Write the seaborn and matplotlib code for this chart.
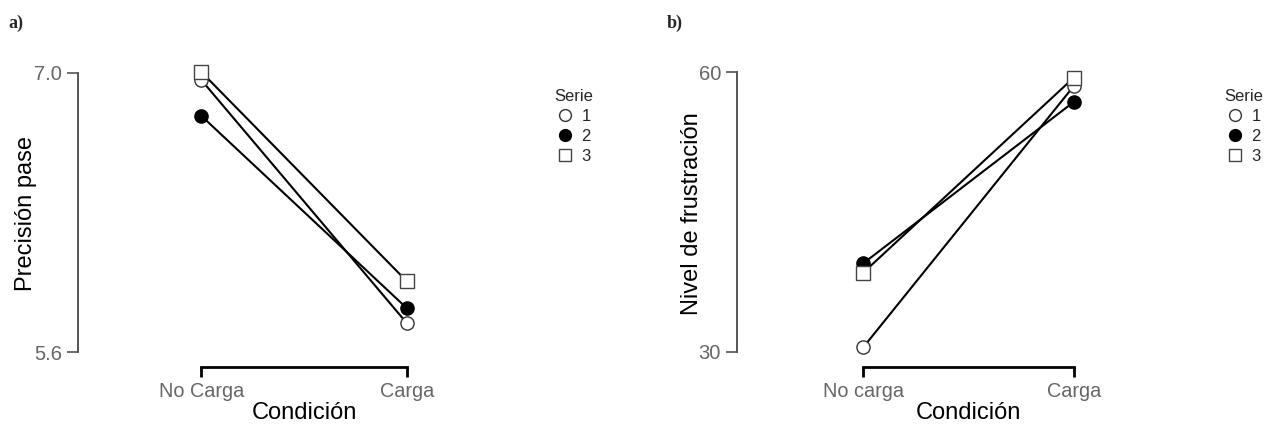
import pandas as pd
import seaborn as sns
import matplotlib.pyplot as plt
from matplotlib.lines import Line2D

# Data
series = [1, 2, 3]
cond_a = ['No Carga', 'Carga']
cond_b = ['No carga', 'Carga']
precision_s1 = [6.965, 5.745]
precision_s2 = [6.785, 5.82]
precision_s3 = [7.005, 5.955]
frustracion_s1 = [30.5, 58.5]
frustracion_s2 = [39.5, 56.8]
frustracion_s3 = [38.5, 59.4]

sns.set_style("white")
plt.rcParams['font.family'] = ['Liberation Sans', 'DejaVu Sans']

marker_style = {
    1: dict(marker='o', markerfacecolor='white', markeredgecolor='#333333'),
    2: dict(marker='o', markerfacecolor='black', markeredgecolor='black'),
    3: dict(marker='s', markerfacecolor='white', markeredgecolor='#444444'),
}


def panel(ax, conds, values, yticks, ylim, ylabel, letter, pad):
    for s, vals in zip(series, values):
        df = pd.DataFrame({'Condición': conds, 'valor': vals})
        sns.lineplot(x='Condición', y='valor', data=df, ax=ax, color='black',
                     linewidth=1.5, markersize=9.5, markeredgewidth=1.0,
                     sort=False, **marker_style[s])
    ax.set_xlim(-0.6, 1.6)
    ax.set_ylim(*ylim)
    ax.set_yticks(yticks)
    ax.set_yticklabels([str(t) for t in yticks])
    ax.set_xlabel('Condición', fontsize=17, color='black', labelpad=1)
    ax.set_ylabel(ylabel, fontsize=17, color='black', labelpad=pad)
    for side in ['top', 'right']:
        ax.spines[side].set_visible(False)
    ax.spines['left'].set_bounds(yticks[0], yticks[-1])
    ax.spines['left'].set_color('#555555')
    ax.spines['left'].set_linewidth(1.4)
    ax.spines['bottom'].set_bounds(0, 1)
    ax.spines['bottom'].set_color('black')
    ax.spines['bottom'].set_linewidth(2.0)
    ax.tick_params(axis='y', length=8, width=1.2, color='#555555',
                   labelsize=14.5, labelcolor='#666666', left=True)
    ax.tick_params(axis='x', length=7, width=2.0, color='black',
                   labelsize=14.3, labelcolor='#666666', bottom=True)
    handles = [Line2D([], [], linestyle='none', markersize=8.5,
                      markeredgewidth=1.0, **marker_style[s]) for s in series]
    ax.legend(handles, [str(s) for s in series], title='Serie',
              loc='upper left', bbox_to_anchor=(1.02, 0.955),
              frameon=False, fontsize=12, title_fontsize=12,
              handlelength=1.0, handletextpad=0.5, labelspacing=0.3)
    ax.figure.text(ax.get_position().x0 - 0.055, 0.935, letter,
                   fontsize=13, fontweight='bold', family='Liberation Serif')


fig = plt.figure(figsize=(12.7, 4.25), dpi=100)
ax1 = fig.add_axes([0.0614, 0.1365, 0.356, 0.7224])
ax2 = fig.add_axes([0.5803, 0.1365, 0.3646, 0.7224])

panel(ax1, cond_a, [precision_s1, precision_s2, precision_s3],
      [5.6, 7.0], (5.525, 7.065), 'Precisión pase', 'a)', -2)
panel(ax2, cond_b, [frustracion_s1, frustracion_s2, frustracion_s3],
      [30, 60], (28.39, 61.3), 'Nivel de frustración', 'b)', -3)

fig.savefig('out.png', dpi=100)
